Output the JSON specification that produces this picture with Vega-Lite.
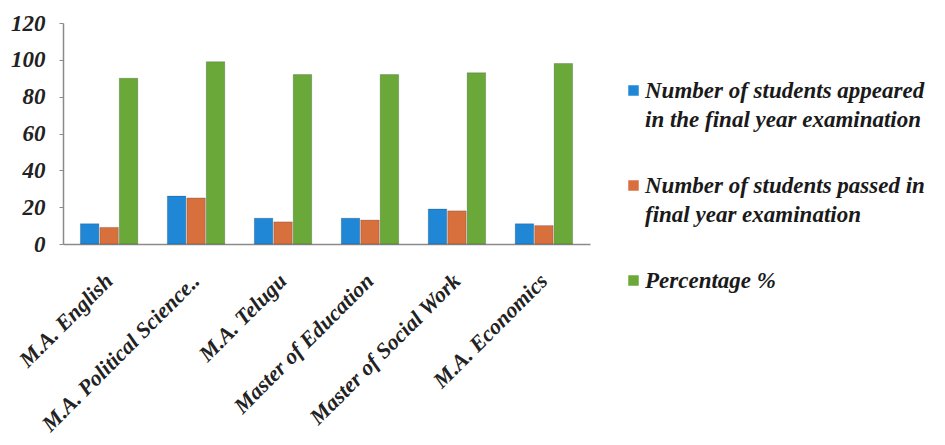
{
  "$schema": "https://vega.github.io/schema/vega-lite/v6.json",
  "width": 527,
  "height": 221,
  "autosize": {"type": "none"},
  "padding": {"left": 63, "top": 23, "right": 355, "bottom": 201},
  "background": "white",
  "config": {
    "view": {"stroke": null},
    "style": {"guide-label": {"lineHeight": 29}}
  },
  "data": {
    "values": [
      {"program": "M.A. English", "series": "Number of students appeared in the final year examination", "value": 11},
      {"program": "M.A. English", "series": "Number of students passed in final year examination", "value": 9},
      {"program": "M.A. English", "series": "Percentage %", "value": 90},
      {"program": "M.A. Political Science..", "series": "Number of students appeared in the final year examination", "value": 26},
      {"program": "M.A. Political Science..", "series": "Number of students passed in final year examination", "value": 25},
      {"program": "M.A. Political Science..", "series": "Percentage %", "value": 99},
      {"program": "M.A. Telugu", "series": "Number of students appeared in the final year examination", "value": 14},
      {"program": "M.A. Telugu", "series": "Number of students passed in final year examination", "value": 12},
      {"program": "M.A. Telugu", "series": "Percentage %", "value": 92},
      {"program": "Master of Education", "series": "Number of students appeared in the final year examination", "value": 14},
      {"program": "Master of Education", "series": "Number of students passed in final year examination", "value": 13},
      {"program": "Master of Education", "series": "Percentage %", "value": 92},
      {"program": "Master of Social Work", "series": "Number of students appeared in the final year examination", "value": 19},
      {"program": "Master of Social Work", "series": "Number of students passed in final year examination", "value": 18},
      {"program": "Master of Social Work", "series": "Percentage %", "value": 93},
      {"program": "M.A. Economics", "series": "Number of students appeared in the final year examination", "value": 11},
      {"program": "M.A. Economics", "series": "Number of students passed in final year examination", "value": 10},
      {"program": "M.A. Economics", "series": "Percentage %", "value": 98}
    ]
  },
  "mark": {"type": "bar", "stroke": "#000000", "strokeOpacity": 0.18, "strokeWidth": 1},
  "encoding": {
    "x": {
      "field": "program",
      "type": "nominal",
      "sort": null,
      "scale": {"paddingInner": 0.34, "paddingOuter": 0.2},
      "axis": {
        "title": null,
        "labelAngle": -45,
        "labelAlign": "right",
        "labelBaseline": "middle",
        "labelPadding": 33,
        "labelFont": "Liberation Serif",
        "labelFontStyle": "italic",
        "labelFontWeight": "bold",
        "labelFontSize": 22,
        "labelColor": "#222222",
        "labelLimit": 400,
        "ticks": false,
        "domainColor": "#8a8a8a",
        "domainWidth": 1.5
      }
    },
    "xOffset": {
      "field": "series",
      "type": "nominal",
      "sort": ["Number of students appeared in the final year examination", "Number of students passed in final year examination", "Percentage %"],
      "scale": {"paddingInner": 0.05}
    },
    "y": {
      "field": "value",
      "type": "quantitative",
      "scale": {"domain": [0, 120]},
      "axis": {
        "title": null,
        "values": [0, 20, 40, 60, 80, 100, 120],
        "grid": false,
        "labelFont": "Liberation Serif",
        "labelFontStyle": "italic",
        "labelFontWeight": "bold",
        "labelFontSize": 23,
        "labelColor": "#222222",
        "labelPadding": 14,
        "tickSize": 4,
        "tickColor": "#8a8a8a",
        "domainColor": "#8a8a8a",
        "domainWidth": 1.5
      }
    },
    "color": {
      "field": "series",
      "type": "nominal",
      "scale": {
        "domain": ["Number of students appeared in the final year examination", "Number of students passed in final year examination", "Percentage %"],
        "range": ["#1f87d6", "#d8703e", "#6aa83a"]
      },
      "legend": {
        "orient": "none",
        "legendX": 559,
        "legendY": 56,
        "title": null,
        "labelFont": "Liberation Serif",
        "labelFontStyle": "italic",
        "labelFontWeight": "bold",
        "labelFontSize": 23,
        "labelColor": "#1a1a1a",
        "labelLimit": 400,
        "labelOffset": 0,
        "symbolType": "square",
        "symbolSize": 110,
        "symbolStrokeWidth": 0,
        "rowPadding": 42,
        "labelExpr": "datum.label == 'Number of students appeared in the final year examination' ? ['Number of students appeared', 'in the final year examination'] : datum.label == 'Number of students passed in final year examination' ? ['Number of students passed in', 'final year examination'] : datum.label"
      }
    }
  }
}
